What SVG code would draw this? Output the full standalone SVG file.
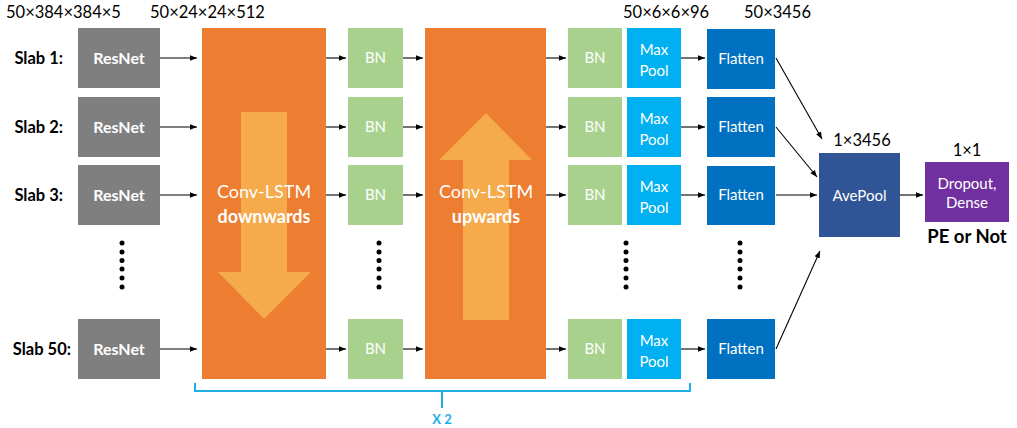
<svg xmlns="http://www.w3.org/2000/svg" width="1017" height="428" viewBox="0 0 1017 428">
<defs>
<marker id="ah" viewBox="0 0 10 10" refX="10" refY="5" markerWidth="7" markerHeight="7" markerUnits="userSpaceOnUse" orient="auto"><path d="M0,1 L10,5 L0,9 z" fill="#000"/></marker>
<style>
text{font-family:Lato,"Open Sans","Liberation Sans",sans-serif}
.dim{font-size:16.5px;fill:#000}
.slab{font-size:16.5px;font-weight:bold;fill:#000;text-anchor:end}
.res{fill:#7f7f7f}
.resT{font-size:16px;font-weight:bold;fill:#fff;text-anchor:middle}
.orange{fill:#ED7D31}
.light{fill:#F5AA4B}
.bn{fill:#A9D18E}
.mp{fill:#00B0F0}
.fl{fill:#0070C0}
.wt{font-size:15px;fill:#fff;text-anchor:middle}
.lstm{font-size:18px;fill:#fff;text-anchor:middle}
.conn line{stroke:#000;stroke-width:1.1;marker-end:url(#ah)}
.dot{fill:#000}
</style>
</defs>
<rect width="1017" height="428" fill="#fff"/>

<text class="dim" x="6" y="18">50×384×384×5</text>
<text class="dim" x="150" y="18">50×24×24×512</text>
<text class="dim" x="623" y="18">50×6×6×96</text>
<text class="dim" x="744" y="18">50×3456</text>

<g id="slab-labels">
<text class="slab" x="63" y="64">Slab 1:</text>
<text class="slab" x="63" y="133">Slab 2:</text>
<text class="slab" x="63" y="201">Slab 3:</text>
<text class="slab" x="71" y="355">Slab 50:</text>
</g>

<g id="resnet">
<rect class="res" x="78" y="28" width="82" height="60"/><text class="resT" x="119" y="64">ResNet</text>
<rect class="res" x="78" y="97" width="82" height="60"/><text class="resT" x="119" y="133">ResNet</text>
<rect class="res" x="78" y="165" width="82" height="60"/><text class="resT" x="119" y="201">ResNet</text>
<rect class="res" x="78" y="319" width="82" height="60"/><text class="resT" x="119" y="355">ResNet</text>
</g>

<g id="convlstm-down">
<rect class="orange" x="202" y="28" width="124" height="351"/>
<path class="light" d="M241,112 H287 V272 H311 L264,319 L218,272 H241 Z"/>
<text class="lstm" x="264" y="198">Conv-LSTM</text>
<text class="lstm" x="264" y="223" font-weight="bold">downwards</text>
</g>

<g id="bn1">
<rect class="bn" x="348" y="28" width="55" height="60"/><text class="wt" x="375.5" y="63">BN</text>
<rect class="bn" x="348" y="97" width="55" height="60"/><text class="wt" x="375.5" y="132">BN</text>
<rect class="bn" x="348" y="165" width="55" height="60"/><text class="wt" x="375.5" y="200">BN</text>
<rect class="bn" x="348" y="319" width="55" height="60"/><text class="wt" x="375.5" y="354">BN</text>
</g>

<g id="convlstm-up">
<rect class="orange" x="425" y="28" width="121" height="351"/>
<path class="light" d="M463,320 V160 H439 L486,113 L532,160 H509 V320 Z"/>
<text class="lstm" x="486" y="198">Conv-LSTM</text>
<text class="lstm" x="486" y="223" font-weight="bold">upwards</text>
</g>

<g id="bn2">
<rect class="bn" x="568" y="28" width="54" height="60"/><text class="wt" x="595" y="63">BN</text>
<rect class="bn" x="568" y="97" width="54" height="60"/><text class="wt" x="595" y="132">BN</text>
<rect class="bn" x="568" y="165" width="54" height="60"/><text class="wt" x="595" y="200">BN</text>
<rect class="bn" x="568" y="319" width="54" height="60"/><text class="wt" x="595" y="354">BN</text>
</g>

<g id="maxpool">
<rect class="mp" x="627" y="28" width="54" height="60"/><text class="wt" x="654" y="55">Max</text><text class="wt" x="654" y="76">Pool</text>
<rect class="mp" x="627" y="97" width="54" height="60"/><text class="wt" x="654" y="124">Max</text><text class="wt" x="654" y="145">Pool</text>
<rect class="mp" x="627" y="165" width="54" height="60"/><text class="wt" x="654" y="192">Max</text><text class="wt" x="654" y="213">Pool</text>
<rect class="mp" x="627" y="319" width="54" height="60"/><text class="wt" x="654" y="346">Max</text><text class="wt" x="654" y="367">Pool</text>
</g>

<g id="flatten">
<rect class="fl" x="707" y="29" width="68" height="60"/><text class="wt" x="741" y="64" font-size="14">Flatten</text>
<rect class="fl" x="707" y="97" width="68" height="60"/><text class="wt" x="741" y="132" font-size="14">Flatten</text>
<rect class="fl" x="707" y="166" width="68" height="59"/><text class="wt" x="741" y="200" font-size="14">Flatten</text>
<rect class="fl" x="707" y="319" width="68" height="60"/><text class="wt" x="741" y="354" font-size="14">Flatten</text>
</g>

<g id="avepool">
<text class="dim" x="862" y="146" text-anchor="middle">1×3456</text>
<rect x="819" y="153" width="81" height="84" fill="#2F5597"/>
<text class="wt" x="859.5" y="201" font-size="16.5">AvePool</text>
</g>

<g id="dense">
<text class="dim" x="967" y="156" text-anchor="middle">1×1</text>
<rect x="925" y="162" width="84" height="60" fill="#7030A0"/>
<text class="wt" x="967" y="189" font-size="13">Dropout,</text>
<text class="wt" x="967" y="208" font-size="13">Dense</text>
<text x="967" y="243" font-size="18.5" font-weight="bold" text-anchor="middle" fill="#000">PE or Not</text>
</g>

<g id="dots">
<g class="dot">
<circle cx="122" cy="243" r="2.5"/><circle cx="122" cy="252" r="2.5"/><circle cx="122" cy="260.5" r="2.5"/><circle cx="122" cy="269" r="2.5"/><circle cx="122" cy="278" r="2.5"/><circle cx="122" cy="287" r="2.5"/>
<circle cx="379" cy="243" r="2.5"/><circle cx="379" cy="252" r="2.5"/><circle cx="379" cy="260.5" r="2.5"/><circle cx="379" cy="269" r="2.5"/><circle cx="379" cy="278" r="2.5"/><circle cx="379" cy="287" r="2.5"/>
<circle cx="626" cy="243" r="2.5"/><circle cx="626" cy="252" r="2.5"/><circle cx="626" cy="260.5" r="2.5"/><circle cx="626" cy="269" r="2.5"/><circle cx="626" cy="278" r="2.5"/><circle cx="626" cy="287" r="2.5"/>
<circle cx="740" cy="243" r="2.5"/><circle cx="740" cy="252" r="2.5"/><circle cx="740" cy="260.5" r="2.5"/><circle cx="740" cy="269" r="2.5"/><circle cx="740" cy="278" r="2.5"/><circle cx="740" cy="287" r="2.5"/>
</g>
</g>

<g id="repeat-brace">
<path d="M195,383 V391 H690 V383 M442,391 V408" fill="none" stroke="#1FAEE8" stroke-width="2"/>
<text x="442" y="424" font-size="13" font-weight="bold" fill="#1FAEE8" text-anchor="middle">X 2</text>
</g>

<g id="connectors" class="conn">
<line x1="160" y1="58" x2="197" y2="58"/>
<line x1="160" y1="127" x2="197" y2="127"/>
<line x1="160" y1="195" x2="197" y2="195"/>
<line x1="160" y1="349" x2="197" y2="349"/>
<line x1="326" y1="58" x2="346" y2="58"/>
<line x1="326" y1="127" x2="346" y2="127"/>
<line x1="326" y1="195" x2="346" y2="195"/>
<line x1="326" y1="349" x2="346" y2="349"/>
<line x1="403" y1="58" x2="423" y2="58"/>
<line x1="403" y1="127" x2="423" y2="127"/>
<line x1="403" y1="195" x2="423" y2="195"/>
<line x1="403" y1="349" x2="423" y2="349"/>
<line x1="546" y1="58" x2="566" y2="58"/>
<line x1="546" y1="127" x2="566" y2="127"/>
<line x1="546" y1="195" x2="566" y2="195"/>
<line x1="546" y1="349" x2="566" y2="349"/>
<line x1="681" y1="58" x2="705" y2="58"/>
<line x1="681" y1="127" x2="705" y2="127"/>
<line x1="681" y1="195" x2="705" y2="195"/>
<line x1="681" y1="349" x2="705" y2="349"/>
<line x1="776" y1="58" x2="822" y2="139"/>
<line x1="776" y1="127" x2="817" y2="177"/>
<line x1="776" y1="195" x2="817" y2="195"/>
<line x1="776" y1="349" x2="820" y2="251"/>
<line x1="900" y1="195" x2="923" y2="195"/>
</g>
</svg>
